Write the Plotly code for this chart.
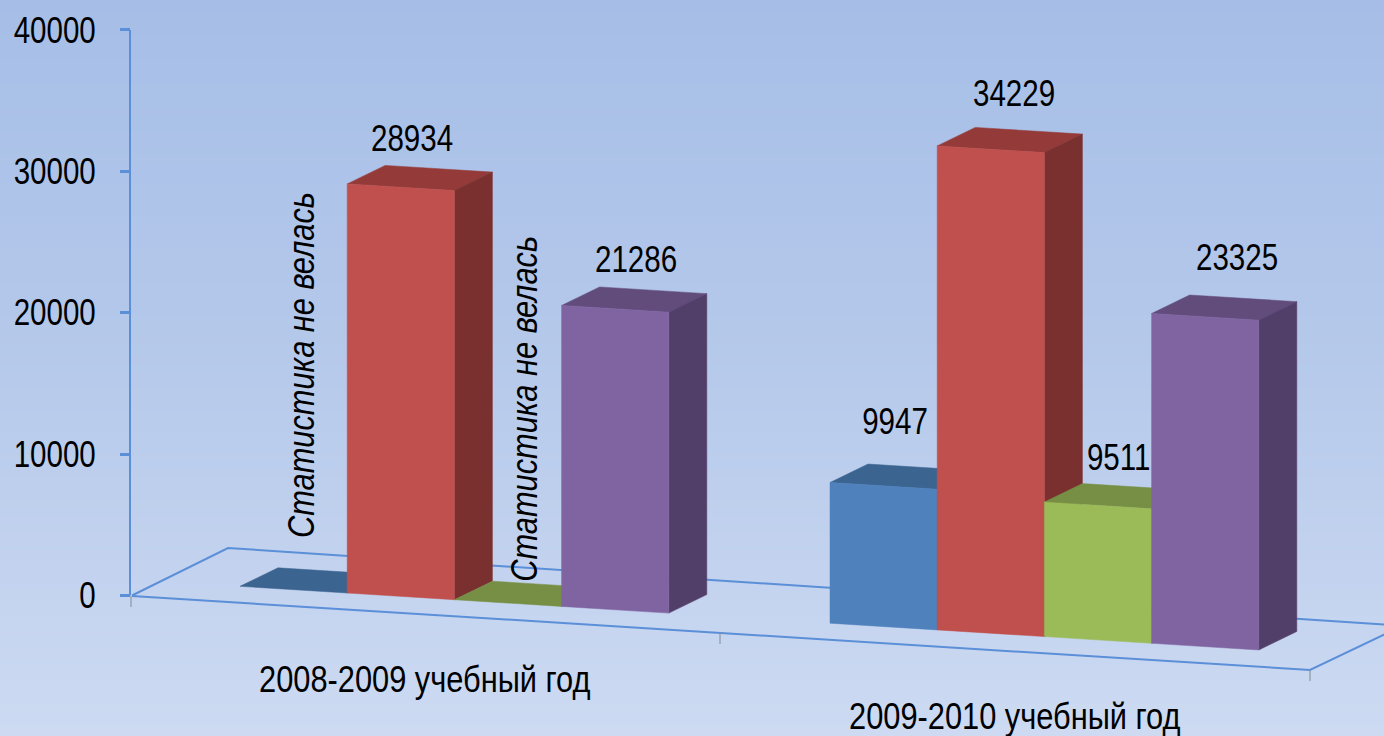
import numpy as np
import plotly.graph_objects as go

# ---------- data ----------
years = ["2008-2009 учебный год", "2009-2010 учебный год"]
series_names = ["Ряд 1", "Ряд 2", "Ряд 3", "Ряд 4"]
series_1 = [0, 9947]
series_2 = [28934, 34229]
series_3 = [0, 9511]
series_4 = [21286, 23325]
y_ticks = [0, 10000, 20000, 30000, 40000]
no_data_text = "Статистика не велась"

# ---------- style / layout ----------
W, H = 1384, 736
FONT = "Liberation Sans, Arial"
PX = 0.01414            # pixels per value unit
Y0 = 595.5              # pixel row of value 0 on the axis
AXIS_X = 130
AX_COL = "#5B8FD8"
FRONT = ["#4F81BD", "#C0504D", "#9BBB59", "#8064A2"]
TOP = ["#3C6491", "#943A38", "#778F44", "#624C7C"]
SIDE = ["#38587F", "#7A302F", "#6A7F3D", "#523F69"]
GROUP_LEFT = [240, 830]
BAR_W = 107.2
DX, DY = 38, 18.5
SLOPE = 0.0625
BASE_X, BASE_Y = 347, 593
# label offsets (px) for each [series][group]
SHIFT = {(0, 1): (11, 64), (1, 0): (11, 49), (1, 1): (23, 56), (2, 1): (20, 48),
         (3, 0): (21, 49), (3, 1): (32, 59)}
NO_DATA_SHIFT = {0: (8, 225), 2: (16, 194)}


def py(px_row):
    """pixel row -> axis value"""
    return (Y0 - px_row) / PX


def base(x):
    return BASE_Y + SLOPE * (x - BASE_X)


def pt(x, value, depth=0.0):
    """oblique projection of (x, value, depth 0..1) to axis coordinates"""
    return x + DX * depth, py(base(x) - value * PX - DY * depth)


def poly(points, colour, name):
    xs = [p[0] for p in points] + [points[0][0]]
    ys = [p[1] for p in points] + [points[0][1]]
    return go.Scatter(x=xs, y=ys, mode="lines", fill="toself", fillcolor=colour,
                      line=dict(color=colour, width=0.5), name=name,
                      hoverinfo="name", showlegend=False)


def line(xs, rows, colour=AX_COL, width=2):
    return go.Scatter(x=xs, y=[py(r) for r in rows], mode="lines",
                      line=dict(color=colour, width=width), hoverinfo="skip", showlegend=False)


fig = go.Figure()

# background gradient
rows = np.linspace(0, 1, 100)
fig.add_trace(go.Heatmap(x=[0, W], y=py(rows * H), z=np.column_stack([rows, rows]),
                         colorscale=[[0, "#A6BEE7"], [0.45, "#B4C8EA"], [1, "#CDDAF2"]],
                         zmin=0, zmax=1, zsmooth="best", showscale=False, hoverinfo="skip"))

# axis and floor
fig.add_trace(line([AXIS_X, AXIS_X], [Y0 - y_ticks[-1] * PX, Y0]))
fig.add_trace(line([132, 228, 1406], [595.5, 548, 626]))
fig.add_trace(line([132, 1310, 1406], [596, 670, 624]))
for x0, r0, c in [(131, 596, "#8C97A6"), (720, 633, "#8C97A6"), (1310, 670, "#8C97A6")]:
    fig.add_trace(line([x0, x0], [r0, r0 + 11], c, 1.2))

# bars, painted back-to-front
all_series = [series_1, series_2, series_3, series_4]
annotations = []
for g in range(len(years)):
    for s, vals in enumerate(all_series):
        v = vals[g]
        x0 = GROUP_LEFT[g] + s * BAR_W
        x1 = x0 + BAR_W
        nm = f"{series_names[s]}: {v}"
        fig.add_trace(poly([pt(x0, v), pt(x0, v, 1), pt(x1, v, 1), pt(x1, v)], TOP[s], nm))
        fig.add_trace(poly([pt(x1, 0), pt(x1, 0, 1), pt(x1, v, 1), pt(x1, v)], SIDE[s], nm))
        if v > 0:
            fig.add_trace(poly([pt(x0, 0), pt(x1, 0), pt(x1, v), pt(x0, v)], FRONT[s], nm))
            ax, ay = pt((x0 + x1) / 2, v)
            sx, sy = SHIFT[(s, g)]
            annotations.append(dict(x=ax, y=ay, xshift=sx, yshift=sy, text=str(v), showarrow=False,
                                    font=dict(family=FONT, size=36, color="#000000")))
        else:
            ax, ay = pt((x0 + x1) / 2, 0)
            sx, sy = NO_DATA_SHIFT[s]
            annotations.append(dict(x=ax, y=ay, xshift=sx, yshift=sy, text=no_data_text, textangle=-90,
                                    showarrow=False,
                                    font=dict(family=FONT, size=36, color="#000000", style="italic")))

# category labels
for name, cx, cy in zip(years, [425, 1015], [679, 716]):
    annotations.append(dict(x=cx, y=py(cy), text=name, showarrow=False,
                            font=dict(family=FONT, size=36, color="#000000")))

fig.update_layout(
    width=W, height=H, margin=dict(l=0, r=0, t=0, b=0, autoexpand=False), showlegend=False,
    paper_bgcolor="#B4C8EA", plot_bgcolor="#B4C8EA",
    xaxis=dict(range=[0, W], visible=False, fixedrange=True, automargin=False),
    yaxis=dict(range=[py(H), py(0)], anchor="free", position=AXIS_X / W, side="left", automargin=False,
               tickmode="array", tickvals=y_ticks, ticktext=[str(t) for t in y_ticks],
               ticks="outside", ticklen=10, tickwidth=2.5, tickcolor=AX_COL,
               ticklabelstandoff=17, showline=False, showgrid=False, zeroline=False,
               tickfont=dict(family=FONT, size=36, color="#000000"), fixedrange=True),
    annotations=annotations,
)
# The reference's lettering is a condensed Arial: narrow the real text, and drop the page margin.
post = """
document.body.style.margin = '0';
document.querySelectorAll('.main-svg text').forEach(function (t) {
  var k = t.textContent.length > 6 ? 0.855 : 0.82;
  t.setAttribute('lengthAdjust', 'spacingAndGlyphs');
  t.setAttribute('textLength', t.getComputedTextLength() * k);
});
"""
fig.write_html("out.html", config=dict(displayModeBar=False), post_script=post)
